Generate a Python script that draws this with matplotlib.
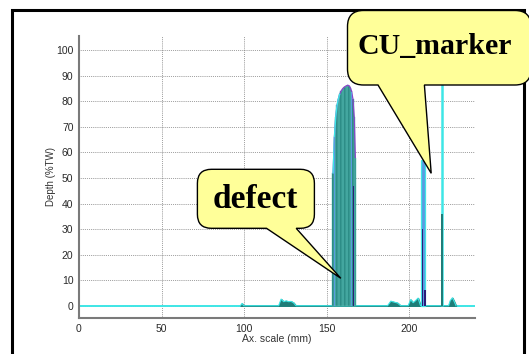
import matplotlib.pyplot as plt
from matplotlib.path import Path
from matplotlib.patches import PathPatch, Rectangle

# --- data ---
baseline_x = [0, 240]
baseline_y = [0, 0]

# defect indication (dense group of A-scan stripes)
defect_x = [154.0, 154.8, 155.6, 156.4, 157.2, 158.0, 158.8, 159.6, 160.4, 161.2,
            162.0, 162.8, 163.6, 164.4, 165.2, 166.0, 166.8, 167.5]
defect_d = [52, 66, 74, 78.5, 81, 82.8, 84, 84.8, 85.4, 85.8,
            86.1, 86.3, 86.2, 85.4, 84, 81, 74, 58]
defect_blue_x = [155.0, 165.3]
defect_blue_d = [66, 83.5]
defect_navy_x = [166.4]
defect_navy_d = [47]

# CU marker 1 and 2
mk1_x = [208.7]
mk1_d = [57]
mk1_dark_x = [208.1, 209.6]
mk1_dark_d = [30, 6]
mk2_x = [220.2]
mk2_d = [110]
mk2_dark_x = [220.0]
mk2_dark_d = [36]

# small noise bumps along the scan
bump_x = [97.8, 98.8, 99.8, 121.0, 122.5, 124.0, 125.5, 127.0, 128.5, 130.0, 131.5,
          187.0, 189.0, 191.0, 193.0, 195.0, 199.5, 201.0, 202.5, 204.0, 205.5, 207.0,
          224.0, 225.0, 226.3, 227.5, 228.5]
bump_y = [0, 0.9, 0, 0, 2.6, 1.6, 1.9, 1.6, 1.7, 1.2, 0,
          0, 1.8, 1.4, 1.1, 0, 0, 2.4, 1.2, 2.0, 3.0, 0,
          0, 2.0, 3.1, 1.5, 0]

teal = '#1f7d78'
cyan = '#3ee6e6'
blue = '#5a9be2'
navy = '#2c1c78'
purple = '#8a45c8'

fig = plt.figure(figsize=(5.29, 3.54), dpi=100)
fig.patch.set_facecolor('white')

W, H = 529.0, 354.0
ax = fig.add_axes([79 / W, 1 - 318 / H, (475 - 79) / W, (318 - 36) / H])

ax.plot(baseline_x, baseline_y, color=cyan, lw=1.4, zorder=2)
ax.fill_between(bump_x, bump_y, 0, color=teal, zorder=3)
ax.plot(bump_x, bump_y, color=cyan, lw=0.8, zorder=3)

ax.bar(defect_x, defect_d, width=0.8, color=teal, edgecolor='#5cc2b8', lw=0.35, zorder=3)
ax.plot(defect_x, defect_d, color=purple, lw=0.9, zorder=4)
ax.plot(defect_x[:6], defect_d[:6], color=cyan, lw=1.0, zorder=4)
ax.bar(defect_blue_x, defect_blue_d, width=0.45, color=blue, zorder=4)
ax.bar(defect_navy_x, defect_navy_d, width=0.45, color=navy, zorder=4)

ax.bar(mk1_x, mk1_d, width=2.3, color=blue, edgecolor=cyan, lw=0.9, zorder=3)
ax.bar(mk1_dark_x, mk1_dark_d, width=0.9, color=navy, zorder=4)
ax.vlines(mk2_x, 0, mk2_d, color=cyan, lw=1.8, zorder=3)
ax.bar(mk2_dark_x, mk2_dark_d, width=1.3, color=teal, zorder=4)

ax.set_xlim(0, 240)
ax.set_ylim(-4.8, 105.6)
ax.set_xticks([0, 50, 100, 150, 200])
ax.set_yticks(range(0, 101, 10))
ax.grid(True, color='#666666', ls=(0, (1, 1.5)), lw=0.55)
ax.axvline(240, color='#666666', ls=(0, (1, 1.5)), lw=0.55)
for s in ['top', 'right']:
    ax.spines[s].set_visible(False)
for s in ['left', 'bottom']:
    ax.spines[s].set_color('#7a7a7a')
    ax.spines[s].set_linewidth(1.5)
ax.tick_params(length=0, labelsize=7.5, labelcolor='#2a2a2a', pad=4)
for lab in ax.get_xticklabels() + ax.get_yticklabels():
    lab.set_family('Liberation Sans')
ax.set_xlabel('Ax. scale (mm)', fontsize=7.5, family='Liberation Sans', color='#333333', labelpad=0)
ax.set_ylabel('Depth (%TW)', fontsize=7, family='Liberation Sans', color='#333333', labelpad=0)

# outer black frame
fig.patches.append(Rectangle((12.3 / W, -0.05), (523.5 - 12.3) / W, 1.05 - 9.5 / H,
                             transform=fig.transFigure, fill=False, ec='black', lw=2.2))


def callout(x0, y0, x1, y1, r, b0, b1, tip):
    # pixel coords, y pointing down
    pts = [(x0 + r, y0), (x1 - r, y0), (x1, y0), (x1, y0 + r), (x1, y1 - r), (x1, y1),
           (x1 - r, y1), (b1, y1), tip, (b0, y1), (x0 + r, y1), (x0, y1), (x0, y1 - r),
           (x0, y0 + r), (x0, y0), (x0 + r, y0), (x0 + r, y0)]
    codes = [Path.MOVETO, Path.LINETO, Path.CURVE3, Path.CURVE3, Path.LINETO, Path.CURVE3,
             Path.CURVE3, Path.LINETO, Path.LINETO, Path.LINETO, Path.LINETO, Path.CURVE3,
             Path.CURVE3, Path.LINETO, Path.CURVE3, Path.CURVE3, Path.CLOSEPOLY]
    verts = [(x / W, 1 - y / H) for x, y in pts]
    fig.patches.append(PathPatch(Path(verts, codes), transform=fig.transFigure,
                                 fc='#ffff99', ec='black', lw=1.0, zorder=10))


callout(197.4, 169.3, 314.4, 228.3, 14, 266.5, 296.2, (340.8, 278.3))
callout(347.5, 10.5, 531, 85, 16, 378, 424.4, (431.2, 173.3))

fig.text(255.4 / W, 1 - 199 / H, 'defect', fontsize=24, fontweight='bold',
         family='Liberation Serif', ha='center', va='center', zorder=11)
fig.text(435 / W, 1 - 47 / H, 'CU_marker', fontsize=21.5, fontweight='bold',
         family='Liberation Serif', ha='center', va='center', zorder=11)

fig.savefig('out.png', dpi=100)
